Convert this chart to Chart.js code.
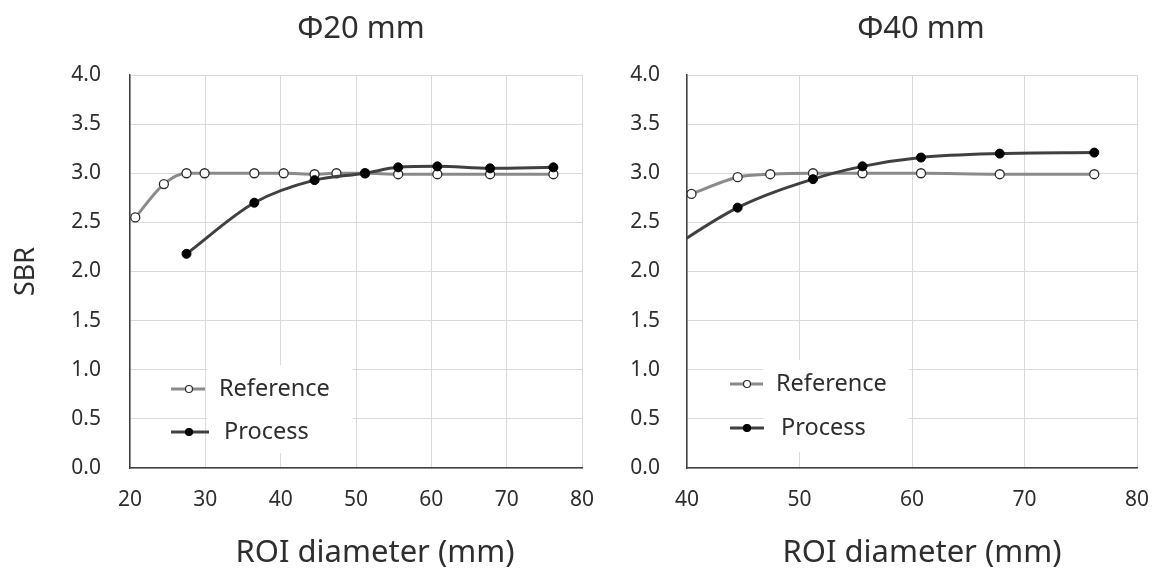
<!DOCTYPE html>
<html>
<head>
<meta charset="utf-8">
<script src="https://cdn.jsdelivr.net/npm/chart.js@4/dist/chart.umd.min.js"></script>
<style>
  body { margin: 0; background: #fff; }
  #wrap { position: relative; width: 1158px; height: 576px; }
  .panel { position: absolute; top: 0; height: 576px; }
</style>
</head>
<body>
<div id="wrap">
  <div class="panel" style="left:0;width:600px"><canvas id="chart20" width="600" height="576"></canvas></div>
  <div class="panel" style="left:600px;width:558px"><canvas id="chart40" width="558" height="576"></canvas></div>
</div>
<script>
// ROI diameters shared by both phantoms (mm)
const roiDiameter = [20.7, 24.5, 27.5, 29.9, 36.5, 40.4, 44.5, 47.4, 51.2, 55.6, 60.8, 67.8, 76.2];

// Φ20 mm sphere
const reference20 = [2.55, 2.89, 3.00, 3.00, 3.00, 3.00, 2.99, 3.00, 3.00, 2.99, 2.99, 2.99, 2.99];
const process20   = [null, null, 2.18, null, 2.70, null, 2.93, null, 3.00, 3.06, 3.07, 3.05, 3.06];

// Φ40 mm sphere
const reference40 = [null, null, null, null, null, 2.79, 2.96, 2.99, 3.00, 3.00, 3.00, 2.99, 2.99];
const process40   = [null, null, null, null, 2.08, null, 2.65, null, 2.94, 3.07, 3.16, 3.20, 3.21];

const yTicks = [0, 0.5, 1.0, 1.5, 2.0, 2.5, 3.0, 3.5, 4.0];
const seriesNames = ["Reference", "Process"];

const fontFamily = "'Noto Sans', 'Open Sans', sans-serif";
const textColor = "#2e2e2e";

function toPoints(values) {
  return roiDiameter
    .map((x, i) => ({ x: x, y: values[i] }))
    .filter((p) => p.y !== null);
}

// draws panel title, x axis title and the boxed legend inside the plot
const panelDecor = {
  id: "panelDecor",
  afterDraw(chart, args, opts) {
    const ctx = chart.ctx;
    ctx.save();
    ctx.fillStyle = textColor;
    ctx.textAlign = "center";
    ctx.textBaseline = "middle";
    ctx.font = "31px " + fontFamily;
    ctx.fillText(opts.title, opts.titleX, 29);
    ctx.font = "31px " + fontFamily;
    ctx.fillText("ROI diameter (mm)", opts.xTitleX, 553);

    const lg = opts.legend;
    ctx.fillStyle = "#ffffff";
    ctx.fillRect(lg.boxX, lg.boxY, lg.boxW, lg.boxH);

    chart.data.datasets.forEach((ds, i) => {
      const y = lg.rowY[i];
      ctx.strokeStyle = ds.borderColor;
      ctx.lineWidth = ds.borderWidth;
      ctx.beginPath();
      ctx.moveTo(lg.symX, y);
      ctx.lineTo(lg.symX + lg.symW[i], y);
      ctx.stroke();

      ctx.beginPath();
      ctx.arc(lg.markX, y, 3.5, 0, Math.PI * 2);
      ctx.fillStyle = ds.pointBackgroundColor;
      ctx.fill();
      ctx.lineWidth = 1.2;
      ctx.strokeStyle = ds.pointBorderColor;
      ctx.stroke();

      ctx.fillStyle = textColor;
      ctx.textAlign = "left";
      ctx.font = "23.5px " + fontFamily;
      ctx.fillText(ds.label, lg.textX[i], y);
    });
    ctx.restore();
  },
};

function makeChart(canvasId, cfg) {
  return new Chart(document.getElementById(canvasId), {
    type: "line",
    data: {
      datasets: [
        {
          label: seriesNames[0],
          data: toPoints(cfg.reference),
          order: 1,
          borderColor: "#8a8a8a",
          borderWidth: 3,
          pointBackgroundColor: "#ffffff",
          pointBorderColor: "#2b2b2b",
          pointBorderWidth: 1.3,
          pointRadius: 4.5,
          cubicInterpolationMode: "monotone",
          clip: { left: 0, top: 10, right: 10, bottom: 10 },
        },
        {
          label: seriesNames[1],
          data: toPoints(cfg.process),
          order: 0, // drawn on top of Reference
          borderColor: "#404040",
          borderWidth: 3,
          pointBackgroundColor: "#000000",
          pointBorderColor: "#000000",
          pointBorderWidth: 1,
          pointRadius: 4.5,
          cubicInterpolationMode: "monotone",
          clip: { left: 0, top: 10, right: 10, bottom: 10 },
        },
      ],
    },
    options: {
      responsive: false,
      animation: false,
      layout: {
        autoPadding: false,
        padding: { top: 75, right: cfg.rightPad, left: 0, bottom: 0 },
      },
      plugins: {
        legend: { display: false },
        tooltip: { enabled: false },
        panelDecor: cfg.decor,
      },
      scales: {
        x: {
          type: "linear",
          min: cfg.xMin,
          max: 80,
          afterFit(scale) {
            scale.height = 108;
            scale.paddingLeft = 0;
            scale.paddingRight = 0;
          },
          afterBuildTicks(scale) {
            scale.ticks = [];
            for (let v = cfg.xMin; v <= 80; v += 10) scale.ticks.push({ value: v });
          },
          grid: { color: "#d9d9d9", lineWidth: 1, drawTicks: false },
          border: { color: "#404040", width: 1.5 },
          ticks: { padding: 19, color: textColor, font: { family: fontFamily, size: 21 } },
        },
        y: {
          min: 0,
          max: 4,
          afterFit(scale) {
            scale.width = cfg.yAxisWidth;
            scale.paddingTop = 0;
            scale.paddingBottom = 0;
          },
          afterBuildTicks(scale) {
            scale.ticks = yTicks.map((v) => ({ value: v }));
          },
          grid: { color: "#d9d9d9", lineWidth: 1, drawTicks: false },
          border: { color: "#404040", width: 1.5 },
          ticks: {
            padding: cfg.yTickPad,
            color: textColor,
            font: { family: fontFamily, size: 21 },
            callback: (v) => Number(v).toFixed(1),
          },
          title: {
            display: cfg.showYTitle,
            text: "SBR",
            color: textColor,
            font: { family: fontFamily, size: 27 },
            padding: { top: 10, bottom: 0 },
          },
        },
      },
    },
    plugins: [panelDecor],
  });
}

makeChart("chart20", {
  reference: reference20,
  process: process20,
  xMin: 20,
  yAxisWidth: 130,
  rightPad: 18,
  yTickPad: 29,
  showYTitle: true,
  decor: {
    title: "Φ20 mm",
    titleX: 361,
    xTitleX: 375,
    legend: {
      boxX: 207, boxY: 365, boxW: 146, boxH: 88,
      symX: 171, symW: [34, 38], markX: 189,
      rowY: [389, 432], textX: [219, 224],
    },
  },
});

makeChart("chart40", {
  reference: reference40,
  process: process40,
  xMin: 40,
  yAxisWidth: 87,
  rightPad: 21,
  yTickPad: 27,
  showYTitle: false,
  decor: {
    title: "Φ40 mm",
    titleX: 321,
    xTitleX: 322,
    legend: {
      boxX: 163, boxY: 360, boxW: 146, boxH: 92,
      symX: 130, symW: [33, 34], markX: 147,
      rowY: [384, 428], textX: [176, 181],
    },
  },
});
</script>
</body>
</html>
